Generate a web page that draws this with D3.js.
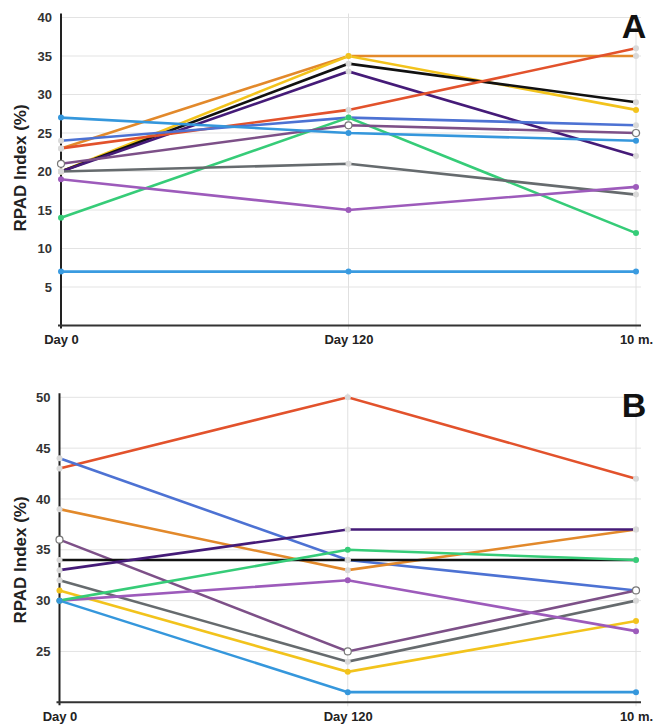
<!DOCTYPE html>
<html>
<head>
<meta charset="utf-8">
<script src="https://cdn.jsdelivr.net/npm/d3@7"></script>
<style>
  body { margin: 0; background: #fff; }
  svg { display: block; font-family: "Liberation Sans", Arial, sans-serif; }
</style>
</head>
<body>
<div id="chart"></div>
<script>
// time points shared by both panels
let timepoints = ['Day 0', 'Day 120', '10 m.'];

// panel A series (values at Day 0, Day 120, 10 m.)
let seriesA = ['orange', 'yellow', 'black', 'darkPurple', 'red', 'blue', 'green', 'mauve', 'lightBlue', 'gray', 'purple', 'skyBlue'];
let valuesA = [
    [23, 35, 35],
    [20, 35, 28],
    [20, 34, 29],
    [20, 33, 22],
    [23, 28, 36],
    [24, 27, 26],
    [14, 27, 12],
    [21, 26, 25],
    [27, 25, 24],
    [20, 21, 17],
    [19, 15, 18],
    [7, 7, 7]
];
let ticksA = [5, 10, 15, 20, 25, 30, 35, 40];

// panel B series
let seriesB = ['red', 'blue', 'orange', 'mauve', 'black', 'darkPurple', 'gray', 'yellow', 'purple', 'green', 'lightBlue'];
let valuesB = [
    [43, 50, 42],
    [44, 34, 31],
    [39, 33, 37],
    [36, 25, 31],
    [34, 34, 34],
    [33, 37, 37],
    [32, 24, 30],
    [31, 23, 28],
    [30, 32, 27],
    [30, 35, 34],
    [30, 21, 21]
];
let ticksB = [25, 30, 35, 40, 45, 50];

//colour for every series name
let colors = {
    orange: '#e2892b',
    yellow: '#f2c31c',
    black: '#111111',
    darkPurple: '#451b78',
    red: '#e2522c',
    blue: '#4d72d3',
    green: '#36cc78',
    mauve: '#7d5088',
    lightBlue: '#3597dc',
    gray: '#666b6e',
    purple: '#9d5bbb',
    skyBlue: '#3a9be0'
};

// series whose markers keep the line colour; the rest get pale grey dots
let colouredDots = ['yellow', 'green', 'purple', 'lightBlue', 'skyBlue'];

let width = 653;
let height = 727;

let svg = d3.select('#chart')
    .append('svg')
    .attr('width', width)
    .attr('height', height);

function drawPanel(opts) {
    let x = d3.scalePoint()
        .domain(timepoints)
        .range([opts.left, opts.right]);

    let y = d3.scaleLinear()
        .domain(opts.domain)
        .range([opts.bottom, opts.top]);

    let g = svg.append('g');

    // horizontal grid
    g.selectAll('.hgrid')
        .data(opts.ticks)
        .enter()
        .append('line')
        .attr('x1', opts.left)
        .attr('x2', opts.right + 5)
        .attr('y1', d => y(d))
        .attr('y2', d => y(d))
        .style('stroke', '#e3e3e3')
        .style('stroke-width', 1);

    // vertical grid (not at Day 0, the axis sits there)
    g.selectAll('.vgrid')
        .data(timepoints.slice(1))
        .enter()
        .append('line')
        .attr('x1', d => x(d))
        .attr('x2', d => x(d))
        .attr('y1', opts.top - 4)
        .attr('y2', opts.bottom + 4)
        .style('stroke', '#e0e0e0')
        .style('stroke-width', 1);

    // y axis
    let yAxis = d3.axisLeft(y)
        .tickValues(opts.ticks)
        .tickSize(0)
        .tickPadding(9);
    let yg = g.append('g')
        .attr('transform', `translate(${opts.left},0)`)
        .call(yAxis);
    yg.select('.domain').remove();
    yg.selectAll('text')
        .style('font-size', '13px')
        .style('font-weight', 'bold')
        .style('fill', '#333');

    g.append('line')
        .attr('x1', opts.left)
        .attr('x2', opts.left)
        .attr('y1', opts.top - 4)
        .attr('y2', opts.bottom + 3)
        .style('stroke', '#222')
        .style('stroke-width', 2);

    // x axis
    let xAxis = d3.axisBottom(x)
        .tickSize(0)
        .tickPadding(9);
    let xg = g.append('g')
        .attr('transform', `translate(0,${opts.bottom})`)
        .call(xAxis);
    xg.select('.domain').remove();
    xg.selectAll('text')
        .style('font-size', '13px')
        .style('font-weight', 'bold')
        .style('fill', '#222');

    g.append('line')
        .attr('x1', opts.left - 3)
        .attr('x2', opts.right + 5)
        .attr('y1', opts.bottom)
        .attr('y2', opts.bottom)
        .style('stroke', '#333')
        .style('stroke-width', 2);

    // axis title
    g.append('text')
        .attr('transform', `translate(20,${opts.titleY}) rotate(-90)`)
        .attr('text-anchor', 'middle')
        .attr('dy', '0.35em')
        .style('font-size', '17px')
        .style('font-weight', 'bold')
        .style('fill', '#222')
        .text('RPAD Index (%)');

    // panel letter
    g.append('text')
        .attr('x', opts.right - 2)
        .attr('y', opts.letterY)
        .attr('text-anchor', 'middle')
        .style('font-size', '34px')
        .style('font-weight', 'bold')
        .style('fill', '#111')
        .text(opts.letter);

    let line = d3.line()
        .x((d, i) => x(timepoints[i]))
        .y(d => y(d));

    //one path + markers per series
    opts.values.forEach((vals, s) => {
        let name = opts.series[s];
        g.append('path')
            .datum(vals)
            .attr('d', line)
            .style('fill', 'none')
            .style('stroke', colors[name])
            .style('stroke-width', 2.6);
    });

    opts.values.forEach((vals, s) => {
        let name = opts.series[s];
        let fill = colouredDots.includes(name) ? colors[name] : '#d9d9d9';
        if (name === 'mauve') fill = '#fff';
        g.selectAll(`.dot-${name}`)
            .data(vals)
            .enter()
            .append('circle')
            .attr('cx', (d, i) => x(timepoints[i]))
            .attr('cy', d => y(d))
            .attr('r', name === 'mauve' ? 3.5 : 3)
            .style('fill', fill)
            .style('stroke', name === 'mauve' ? '#777' : 'none')
            .style('stroke-width', 1.2);
    });
}

drawPanel({
    series: seriesA,
    values: valuesA,
    ticks: ticksA,
    domain: [0, 40],
    left: 61,
    right: 636,
    top: 17.5,
    bottom: 325.5,
    letter: 'A',
    letterY: 38,
    titleY: 168
});

drawPanel({
    series: seriesB,
    values: valuesB,
    ticks: ticksB,
    domain: [20, 50],
    left: 59.5,
    right: 636,
    top: 397.3,
    bottom: 702.3,
    letter: 'B',
    letterY: 417,
    titleY: 560
});
</script>
</body>
</html>
